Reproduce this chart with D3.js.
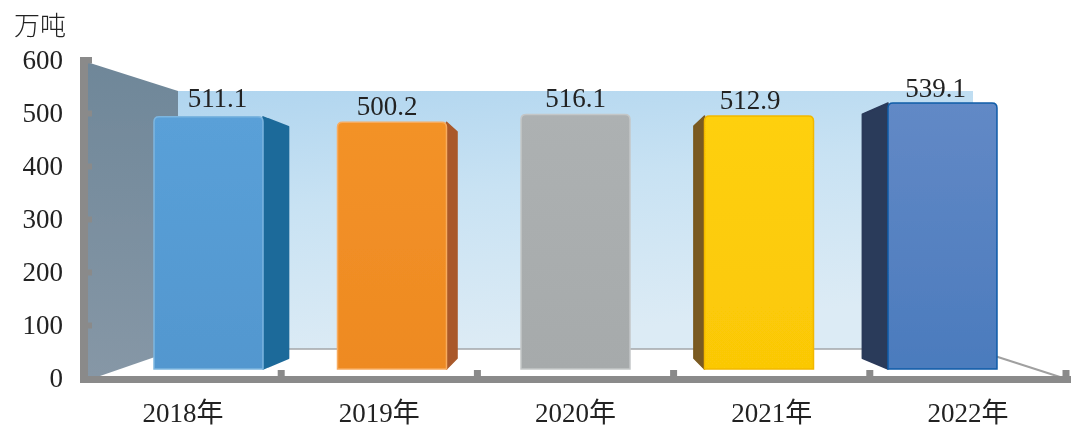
<!DOCTYPE html>
<html>
<head>
<meta charset="utf-8">
<script src="https://cdn.jsdelivr.net/npm/d3@7"></script>
<style>
  html, body { margin: 0; padding: 0; background: #fff; }
  svg { display: block; }
  text { font-family: "Liberation Serif", "Noto Sans CJK SC", serif; }
</style>
</head>
<body>
<script>
const years = ["2018年", "2019年", "2020年", "2021年", "2022年"];
const output = [511.1, 500.2, 516.1, 512.9, 539.1];
const yTicks = [0, 100, 200, 300, 400, 500, 600];
const unit = "万吨";

const frontColors = [["#5aa0d8", "#5297cf"], ["#f39228", "#ee8a22"], ["#adb1b2", "#a6aaab"], ["#fed00a", "#fbc806"], ["#6289c6", "#4b7bbd"]];
const sideColors = ["#1e6a9a", "#a9592a", null, "#7a5a20", "#2a3a5a"];
const edgeColors = ["#7db6e0", "#f7ab5e", "#c4c7c8", "#f2b800", "#0f5ca8"];
const textColor = "#222";

const WIDTH = 1086, HEIGHT = 441;
const svg = d3.select("body").append("svg").attr("width", WIDTH).attr("height", HEIGHT);
const defs = svg.append("defs");

// the printed axis and the bars do not share a scale, the bars sit on the front of the 3d box
const yAxisScale = d3.scaleLinear().domain([0, 600]).range([378, 60]);
const yBar = d3.scaleLinear().domain([0, 600]).range([369, 73]);
const xAxisScale = d3.scaleBand().domain(years).range([85, 1066]);
const xBar = d3.scaleBand().domain(years).range([116.75, 1034.25]).paddingInner(0.406).paddingOuter(0.203);

// vanishing point and depth of the bars
const vx = 575, vy = 238, depth = 0.082;
const back = (x, y) => [x + (vx - x) * depth, y + (vy - y) * depth];

// gradients
function grad(id, x2, y2, stops) {
  const g = defs.append("linearGradient").attr("id", id)
    .attr("x1", 0).attr("y1", 0).attr("x2", x2).attr("y2", y2);
  stops.forEach(s => g.append("stop").attr("offset", s[0]).attr("stop-color", s[1]));
}
grad("wallBack", 0.3, 1, [[0, "#b0d5ef"], [0.45, "#c8e2f3"], [1, "#dcebf5"]]);
grad("wallLeft", 0, 1, [[0, "#6f8799"], [1, "#8697a6"]]);
frontColors.forEach((c, i) => grad("front" + i, 0, 1, [[0, c[0]], [1, c[1]]]));

const blur = defs.append("filter").attr("id", "soft").attr("x", "-5%").attr("y", "-5%").attr("width", "110%").attr("height", "110%");
blur.append("feGaussianBlur").attr("stdDeviation", 0.5);

const chart = svg.append("g").attr("filter", "url(#soft)");

// box walls
chart.append("rect").attr("x", 178).attr("y", 91).attr("width", 795).attr("height", 258)
  .attr("fill", "url(#wallBack)");
chart.append("polygon").attr("points", "90,63 178,91 178,349 100,376 88,376 88,63")
  .attr("fill", "url(#wallLeft)");
chart.append("line").attr("x1", 178).attr("y1", 349).attr("x2", 973).attr("y2", 349)
  .attr("stroke", "#a3a6a8").attr("stroke-width", 1.6);
chart.append("line").attr("x1", 973).attr("y1", 349).attr("x2", 1060).attr("y2", 377)
  .attr("stroke", "#a0a0a0").attr("stroke-width", 2);

// y axis
const yAxis = chart.append("g").attr("transform", "translate(84,0)")
  .call(d3.axisLeft(yAxisScale).tickValues(yTicks).tickSizeInner(0).tickSizeOuter(0).tickPadding(21));
yAxis.select(".domain").attr("stroke", "#8a8a8a").attr("stroke-width", 8).attr("d", "M0,57V383");
yAxis.selectAll("text").attr("font-size", 27).attr("fill", textColor);
yAxis.selectAll(".tick").filter(d => d > 0 && d <= 600).select("line")
  .attr("x1", 3).attr("x2", 8).attr("stroke", "#8a8a8a").attr("stroke-width", 6);
// top cap of the axis is a bit wider than the line
yAxis.append("rect").attr("x", 0).attr("y", 57).attr("width", 8).attr("height", 6).attr("fill", "#8a8a8a");

// x axis
const xAxis = chart.append("g").attr("transform", "translate(0,379.5)")
  .call(d3.axisBottom(xAxisScale).tickSize(0).tickPadding(23));
xAxis.select(".domain").attr("stroke", "#8a8a8a").attr("stroke-width", 7).attr("d", "M80,0H1071");
xAxis.selectAll("text").attr("font-size", 27).attr("fill", textColor);

chart.append("g").selectAll("line")
  .data(years)
  .enter()
  .append("line")
  .attr("x1", d => xAxisScale(d) + xAxisScale.step())
  .attr("x2", d => xAxisScale(d) + xAxisScale.step())
  .attr("y1", 378).attr("y2", 370)
  .attr("stroke", "#8a8a8a").attr("stroke-width", 7);

// bars: one side face, then the front with round top corners
const bars = chart.append("g").selectAll("g")
  .data(years.map((y, i) => ({ year: y, value: output[i], i })))
  .enter()
  .append("g");

bars.filter(d => sideColors[d.i])
  .append("path")
  .attr("d", d => {
    const left = xBar(d.year) + xBar.bandwidth() / 2 > vx;
    const x = left ? xBar(d.year) : xBar(d.year) + xBar.bandwidth();
    const t = yBar(d.value), b = yBar(0);
    const pts = [[x, t], back(x, t), back(x, b), [x, b]];
    return d3.line()(pts) + "Z";
  })
  .attr("fill", d => sideColors[d.i])
  .attr("stroke", d => sideColors[d.i])
  .attr("stroke-linejoin", "round")
  .attr("stroke-width", 1.5);

bars.append("path")
  .attr("d", d => {
    const x = xBar(d.year), w = xBar.bandwidth(), t = yBar(d.value), b = yBar(0), r = 5;
    return `M${x},${b}V${t + r}Q${x},${t} ${x + r},${t}H${x + w - r}Q${x + w},${t} ${x + w},${t + r}V${b}Z`;
  })
  .attr("fill", d => `url(#front${d.i})`)
  .attr("stroke", d => edgeColors[d.i])
  .attr("stroke-width", 1.5);

// value labels are offset with the perspective of the original
const labelDx = [9, -5, 0, -9, -7];
const labelDy = [-10, -7, -7, -7, -6];
bars.append("text")
  .attr("x", d => xBar(d.year) + xBar.bandwidth() / 2 + labelDx[d.i])
  .attr("y", d => yBar(d.value) + labelDy[d.i])
  .attr("text-anchor", "middle")
  .attr("font-size", 27)
  .attr("fill", textColor)
  .text(d => d.value.toFixed(1));

chart.append("text")
  .attr("x", 40).attr("y", 35)
  .attr("text-anchor", "middle")
  .attr("font-size", 26)
  .attr("fill", textColor)
  .style("font-family", '"Noto Sans CJK SC", sans-serif')
  .style("font-weight", 300)
  .text(unit);
</script>
</body>
</html>
